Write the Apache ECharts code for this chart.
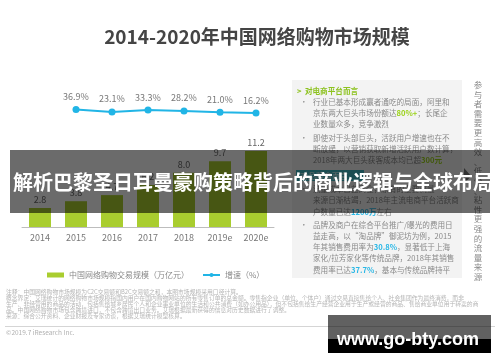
<!DOCTYPE html>
<html><head><meta charset="utf-8">
<script src="https://cdn.jsdelivr.net/npm/echarts@6/dist/echarts.min.js"></script>
<style>html,body{margin:0;padding:0;background:#fff}#c{width:500px;height:362px}</style>
</head><body><div id="c"></div>
<script>
var categories = ['2014','2015','2016','2017','2018','2019e','2020e'];
var marketSize = [2.8, 3.8, 4.7, 6.2, 8.0, 9.7, 11.2];
var growthRate = [null, 36.9, 23.1, 33.3, 28.2, 21.0, 16.2];
var seriesNames = ['中国网络购物交易规模（万亿元）', '增速（%）'];
var titleText = '2014-2020年中国网络购物市场规模';
var bannerText = '解析巴黎圣日耳曼豪购策略背后的商业逻辑与全球布局';
var watermarkText = 'www.go-bty.com';
var sideText = '参与者需要更高效、低价、粘性更强的流量来源';
var boxLines = [
  ['{h|>  对电商平台而言}', 297, 91],
  ['•', 300, 102],
  ['行业已基本形成赢者通吃的局面，阿里和', 313, 102],
  ['京东两大巨头市场份额达{g|80%+}；长尾企', 313, 113],
  ['业数量众多，竞争激烈', 313, 124],
  ['•', 300, 138],
  ['即使对于头部巨头，活跃用户增速也在不', 313, 138],
  ['断放缓，以营销获取新增活跃用户数计算，', 313, 149],
  ['2018年两大巨头获客成本均已超{g|300元}', 313, 160],
  ['•', 300, 189],
  ['流量成本日益高企，原有的主要流量', 313, 189],
  ['来源日渐枯竭，2018年主流电商平台活跃商', 313, 200],
  ['户数量已达{b|1200万}左右', 313, 212],
  ['•', 300, 225],
  ['品牌及商户在综合平台推广/曝光的费用日', 313, 225],
  ['益走高，以“淘品牌”御泥坊为例，2015', 313, 236],
  ['年其销售费用率为{b|30.8%}，显著低于上海', 313, 247],
  ['家化/拉芳家化等传统品牌，2018年其销售', 313, 258],
  ['费用率已达{b|37.7%}，基本与传统品牌持平', 313, 270]
];
var footLines = [
  ['注释：中国网络购物市场规模为C2C交易额和B2C交易额之和，本图市场规模采用口径计算。', 292],
  ['概念界定：艾瑞统计的网络购物市场规模指国内用户在国内购物网站的所有零售订单的总金额。零售指企业（单位、个体户）通过交易直接售给个人、社会集团作为最终消费，而非', 298],
  ['生产、非经营用的商品的活动，包括售给城乡居民个人和企业事业单位的生活和公共消费（如办公用品），但不包括售给生产经营企业用于生产或经营的商品、售给商业单位用于转卖的商', 304],
  ['品。中国网络购物市场包含跨境进口，不包含跨境出口业务。艾瑞根据最新获得的信息对历史数据进行了调整。', 310],
  ['来源：综合公开资料、企业财报及专家访谈，根据艾瑞统计模型核算。', 316]
];
var FONT = '"Noto Sans CJK SC", "Noto Sans", sans-serif';

var graphics = [];
graphics.push({type:'rect', shape:{x:292,y:80,width:170,height:198}, style:{fill:'#f3f3f3'}, z:1});
graphics.push({type:'rect', shape:{x:296,y:170,width:68,height:11}, style:{fill:'#3fb7c4'}, z:2});
graphics.push({type:'text', x:300, y:175.5, style:{text:'对品牌商而言', fill:'#fff', font:'8px '+FONT, verticalAlign:'middle'}, z:3});
boxLines.forEach(function(l){
  graphics.push({type:'text', x:l[1], y:l[2], z:3, style:{
    text:l[0], fill:'#8a8a8a', font:'7.6px '+FONT, verticalAlign:'middle',
    rich:{
      h:{fill:'#8dc21f', font:'bold 7.6px '+FONT},
      g:{fill:'#9bd21a', font:'bold 7.6px '+FONT},
      b:{fill:'#2bb8e6', font:'bold 7.6px '+FONT}
    }}});
});
graphics.push({type:'text', x:478, y:80, z:3, style:{text:sideText.split('').join('\n'), fill:'#8a8a8a', font:'8.5px '+FONT, align:'center', verticalAlign:'top', lineHeight:9.6}});
graphics.push({type:'polygon', shape:{points:[[464,168],[471,176],[464,184]]}, style:{fill:'#777'}, z:3});
footLines.forEach(function(l){
  graphics.push({type:'text', x:6, y:l[1], z:3, style:{text:l[0], fill:'#b5b5b5', font:'5.8px '+FONT, verticalAlign:'middle'}});
});
graphics.push({type:'rect', shape:{x:5,y:326,width:490,height:1}, style:{fill:'#d5d5d5'}, z:3});
graphics.push({type:'text', x:6, y:333, z:3, style:{text:'©2019.7 iResearch Inc.', fill:'#b0b0b0', font:'6.5px '+FONT, verticalAlign:'middle'}});
// overlay banner
graphics.push({type:'rect', shape:{x:10,y:150,width:480,height:63}, style:{fill:'rgba(0,0,0,0.58)'}, z:100});
graphics.push({type:'text', x:253, y:182, z:101, style:{text:bannerText, fill:'#fff', font:'bold 20px '+FONT, align:'center', verticalAlign:'middle'}});
// watermark
graphics.push({type:'rect', shape:{x:328,y:315,width:163,height:24}, style:{fill:'rgba(0,0,0,0.62)'}, z:100});
graphics.push({type:'rect', shape:{x:328,y:339,width:163,height:14}, style:{fill:'#000'}, z:100});
graphics.push({type:'text', x:408, y:340, z:101, style:{text:watermarkText, fill:'#fff', font:'bold 18px "Liberation Sans", Arial, sans-serif', align:'center', verticalAlign:'middle'}});

var chart = echarts.init(document.getElementById('c'));
chart.setOption({
  backgroundColor:'#fff',
  animation:false,
  title:{text:titleText, left:252, top:22, textAlign:'center',
    textStyle:{color:'#454545', fontSize:19, fontWeight:'bold', fontFamily:FONT}},
  legend:{left:42, top:266, itemWidth:17, itemHeight:5, itemGap:13,
    textStyle:{color:'#888', fontSize:8, fontFamily:FONT},
    data:[{name:seriesNames[0], icon:'rect'}, {name:seriesNames[1]}]},
  grid:[
    {left:22, right:226, top:132, bottom:135},
    {left:22, right:226, top:100, height:16}
  ],
  xAxis:[
    {type:'category', data:categories, gridIndex:0,
      axisLine:{lineStyle:{color:'#bdbdbd', width:1}}, axisTick:{show:false},
      axisLabel:{color:'#777', fontSize:9, margin:6, interval:0, fontFamily:FONT}},
    {type:'category', data:categories, gridIndex:1, show:false}
  ],
  yAxis:[
    {type:'value', gridIndex:0, min:0, max:14, show:false, splitLine:{show:false}},
    {type:'value', gridIndex:1, min:0, max:90, show:false, splitLine:{show:false}}
  ],
  series:[
    {name:seriesNames[0], type:'bar', data:marketSize, xAxisIndex:0, yAxisIndex:0,
      barWidth:22, itemStyle:{color:'#a9cd2f'},
      label:{show:true, position:'top', distance:4, color:'#666', fontSize:9, fontFamily:FONT,
        formatter:function(p){return p.value.toFixed(1);}}},
    {name:seriesNames[1], type:'line', data:growthRate, xAxisIndex:1, yAxisIndex:1,
      symbol:'circle', symbolSize:7, lineStyle:{color:'#21b5e6', width:2},
      itemStyle:{color:'#21b5e6'},
      label:{show:true, position:'top', distance:5, color:'#777', fontSize:9, fontFamily:FONT,
        formatter:function(p){return p.value.toFixed(1)+'%';}}}
  ],
  graphic:graphics
});
</script></body></html>
